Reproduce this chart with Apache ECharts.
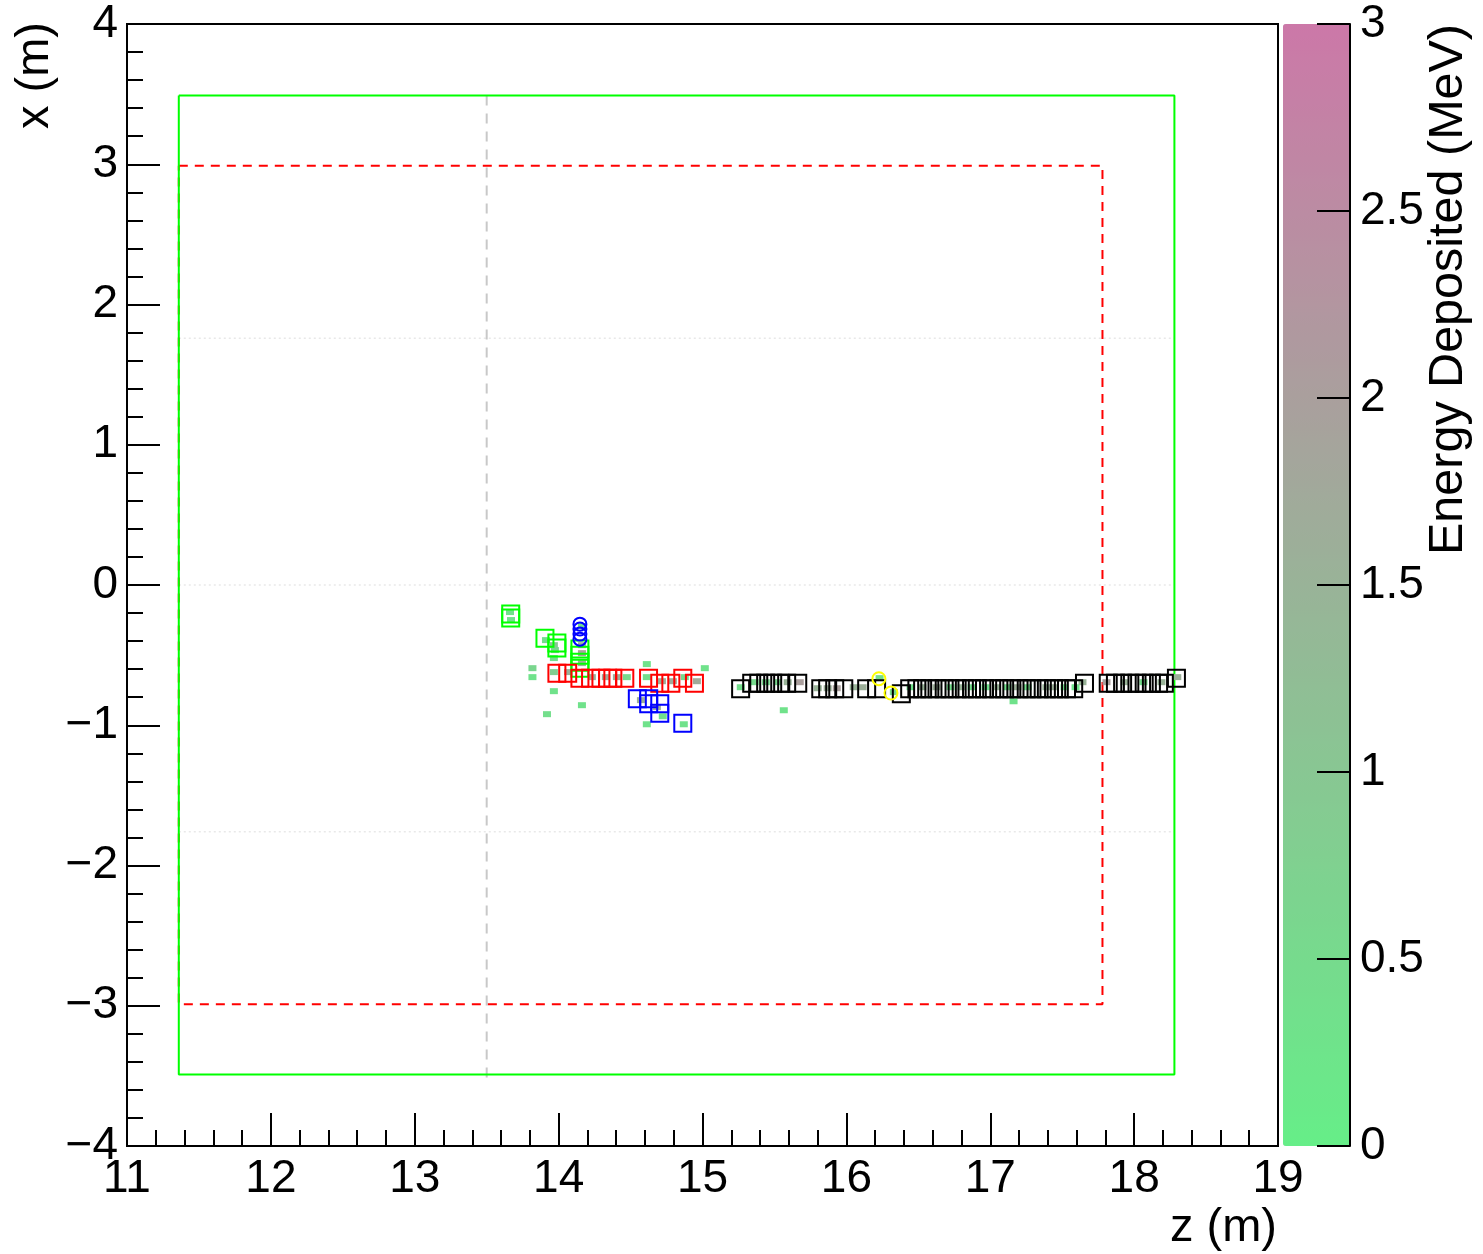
<!DOCTYPE html>
<html><head><meta charset="utf-8">
<script src="https://cdn.jsdelivr.net/npm/echarts/dist/echarts.min.js"></script>
<style>html,body{margin:0;padding:0;background:#fff}#c{width:1483px;height:1254px}</style>
</head><body><div id="c"></div><script>
// ---- geometry outlines (data units, metres) ----
const outerBoxZ = [11.36, 18.28, 18.28, 11.36, 11.36];
const outerBoxX = [3.49, 3.49, -3.49, -3.49, 3.49];
const innerBoxZ = [11.36, 17.78, 17.78, 11.36, 11.36];
const innerBoxX = [2.99, 2.99, -2.99, -2.99, 2.99];
const wallZ = [13.5, 13.5];
const wallX = [3.49, -3.53];
const guideX = [1.76, 0, -1.76];
const guideZ = [11.36, 18.28];

// ---- reconstructed objects [z, x] ----
const greenSquares = [[13.667,-0.207],[13.667,-0.236],[13.905,-0.379],[13.988,-0.414],[13.988,-0.450],
  [14.148,-0.457],[14.148,-0.500],[14.148,-0.550],[14.148,-0.593]];
const blueCircles = [[14.148,-0.279],[14.148,-0.314],[14.148,-0.350],[14.148,-0.386]];
const redSquares = [[13.988,-0.629],[14.063,-0.629],[14.148,-0.664],[14.222,-0.664],[14.294,-0.664],
  [14.340,-0.664],[14.377,-0.664],[14.460,-0.664],[14.625,-0.664],[14.703,-0.700],[14.780,-0.700],
  [14.863,-0.664],[14.944,-0.700]];
const blueSquares = [[14.547,-0.811],[14.626,-0.811],[14.626,-0.846],[14.703,-0.846],[14.703,-0.914],[14.863,-0.986]];
const yellowCircles = [[16.226,-0.668],[16.310,-0.770]];
const blackSquares = [
  [15.265,-0.739],[15.342,-0.700],[15.391,-0.700],[15.439,-0.700],[15.488,-0.700],[15.537,-0.700],[15.585,-0.700],[15.662,-0.700],
  [15.822,-0.739],[15.870,-0.739],[15.919,-0.739],[15.982,-0.739],
  [16.141,-0.739],[16.210,-0.739],[16.382,-0.775],
  [16.44,-0.739],[16.49,-0.739],[16.53,-0.739],[16.58,-0.739],[16.63,-0.739],[16.68,-0.739],[16.72,-0.739],
  [16.77,-0.739],[16.82,-0.739],[16.87,-0.739],[16.91,-0.739],[16.96,-0.739],[17.01,-0.739],[17.06,-0.739],
  [17.10,-0.739],[17.15,-0.739],[17.20,-0.739],[17.25,-0.739],[17.29,-0.739],[17.34,-0.739],[17.39,-0.739],
  [17.44,-0.739],[17.48,-0.739],[17.53,-0.739],[17.58,-0.739],
  [17.655,-0.700],
  [17.82,-0.700],[17.87,-0.700],[17.92,-0.700],[17.97,-0.700],[18.02,-0.700],[18.07,-0.700],[18.12,-0.700],
  [18.17,-0.700],[18.21,-0.700],[18.294,-0.664]];

// ---- hits [z, x, energy MeV] ----
const hits = [
  [13.662,-0.193,0.3],[13.669,-0.250,0.3],[13.912,-0.393,0.4],[13.967,-0.429,1.0],[13.974,-0.464,0.6],
  [13.967,-0.521,0.4],[13.818,-0.593,0.6],[13.818,-0.657,0.3],[13.967,-0.621,0.8],[13.967,-0.757,0.3],
  [14.162,-0.857,0.3],[13.919,-0.921,0.4],[14.162,-0.293,0.4],[14.162,-0.429,1.5],[14.162,-0.486,2.0],
  [14.162,-0.557,1.5],[14.065,-0.621,1.6],[14.231,-0.657,1.6],[14.328,-0.657,1.7],[14.405,-0.657,1.7],
  [14.474,-0.657,0.5],[14.613,-0.564,0.3],[14.613,-0.657,0.4],[14.718,-0.686,1.6],[14.794,-0.686,1.7],
  [14.877,-0.657,0.5],[14.961,-0.686,1.7],[15.016,-0.593,0.3],[14.572,-0.821,1.6],[14.683,-0.871,1.6],
  [14.724,-0.936,0.3],[14.613,-0.993,0.3],[14.870,-0.993,0.3],
  [15.266,-0.729,0.4],[15.363,-0.693,0.5],[15.440,-0.693,0.5],[15.523,-0.693,0.6],[15.592,-0.693,1.5],
  [15.676,-0.693,2.0],[15.565,-0.893,0.3],
  [15.801,-0.736,1.5],[15.870,-0.736,1.6],[15.933,-0.736,2.0],[16.051,-0.729,1.5],[16.113,-0.729,1.6],
  [16.231,-0.664,0.4],[16.330,-0.764,0.5],[16.446,-0.729,0.3],[16.529,-0.729,1.5],[16.626,-0.729,1.6],
  [16.724,-0.729,0.4],[16.800,-0.729,1.5],[16.870,-0.729,0.4],[16.967,-0.729,0.3],[17.044,-0.729,1.5],
  [17.120,-0.729,0.4],[17.190,-0.729,1.6],[17.260,-0.729,0.4],[17.390,-0.729,1.5],[17.450,-0.729,1.6],
  [17.516,-0.729,0.4],[17.593,-0.729,0.3],[17.162,-0.829,0.3],
  [17.641,-0.693,1.5],[17.808,-0.693,2.0],[17.933,-0.693,1.5],[18.065,-0.693,0.4],[18.190,-0.693,1.5],
  [18.300,-0.657,1.6]];

const energyColors = ['#66ee88', '#cc78a8'];

const FONT = 'Liberation Sans, Arial, Helvetica, sans-serif';
const minus = v => String(v).replace('-', '\u2212');
const zip = (a, b) => a.map((v, i) => [v, b[i]]);

function lineSeries(data, color, type, width) {
  return {type:'line', data, xAxisIndex:0, yAxisIndex:0, symbol:'none', silent:true, animation:false,
    lineStyle:{color, width, type}, z:1};
}
function markerSeries(data, symbol, size, color) {
  return {type:'scatter', data, symbol, symbolSize:size, xAxisIndex:0, yAxisIndex:0, animation:false,
    itemStyle:{color:'rgba(0,0,0,0)', borderColor:color, borderWidth:2, opacity:1}, z:4};
}

const series = [];
guideX.forEach(gx => series.push(lineSeries(guideZ.map(z => [z, gx]), '#dddddd', [2,3], 1)));
series.push(lineSeries(zip(wallZ, wallX), '#c8c8c8', [10,8], 2));
series.push(lineSeries(zip(innerBoxZ, innerBoxX), '#ff0000', [9,7], 2));
series.push(lineSeries(zip(outerBoxZ, outerBoxX), '#00ff00', 'solid', 2));
const hitIndex = series.length;
series.push({type:'scatter', data:hits, symbol:'rect', symbolSize:[8,6], xAxisIndex:0, yAxisIndex:0,
  animation:false, z:3, itemStyle:{opacity:1}});
series.push(markerSeries(greenSquares, 'rect', 17, '#00ff00'));
series.push(markerSeries(redSquares, 'rect', 17, '#ff0000'));
series.push(markerSeries(blueSquares, 'rect', 17, '#0000ff'));
series.push(markerSeries(blackSquares, 'rect', 17, '#000000'));
series.push(markerSeries(blueCircles, 'circle', 13, '#0000ff'));
series.push(markerSeries(yellowCircles, 'circle', 13, '#ffff00'));

const axisCommon = {
  axisLine:{show:true, onZero:false, lineStyle:{color:'#000', width:2}},
  axisTick:{show:true, inside:true, length:33, lineStyle:{color:'#000', width:2}},
  minorTick:{show:true, splitNumber:5, length:16, lineStyle:{color:'#000', width:2}},
  splitLine:{show:false},
  axisLabel:{color:'#000', fontSize:46, fontFamily:FONT, formatter:minus}
};

const option = {
  animation:false,
  backgroundColor:'#fff',
  grid:[
    {left:127, top:24, width:1151, height:1122, show:true, borderColor:'#000', borderWidth:2, backgroundColor:'transparent'}
  ],
  xAxis:[
    Object.assign({}, axisCommon, {type:'value', gridIndex:0, min:11, max:19, interval:1,
      axisLabel:Object.assign({}, axisCommon.axisLabel, {margin:10})})
  ],
  yAxis:[
    Object.assign({}, axisCommon, {type:'value', gridIndex:0, min:-4, max:4, interval:1,
      axisLabel:Object.assign({}, axisCommon.axisLabel, {margin:9})}),
    {type:'value', gridIndex:0, position:'right', offset:72, min:0, max:3, interval:0.5, z:20,
      axisLine:{show:true, onZero:false, lineStyle:{color:'#000', width:2}},
      axisTick:{show:true, inside:true, length:33, lineStyle:{color:'#000', width:2}},
      splitLine:{show:false},
      axisLabel:{color:'#000', fontSize:46, fontFamily:FONT, margin:10}}
  ],
  visualMap:{type:'continuous', min:0, max:3, dimension:2, seriesIndex:hitIndex, z:1,
    inRange:{color:energyColors}, left:1283, top:24, itemWidth:67, itemHeight:1122,
    padding:0, calculable:false, text:null, showLabel:false, hoverLink:false, orient:'vertical'},
  graphic:[
    {type:'text', x:35, y:22, rotation:Math.PI/2,
      style:{text:'x (m)', font:'47px ' + FONT, fill:'#000', align:'right', verticalAlign:'middle'}},
    {type:'text', x:1277, y:1228,
      style:{text:'z (m)', font:'47px ' + FONT, fill:'#000', align:'right', verticalAlign:'middle'}},
    {type:'text', x:1449, y:24, rotation:Math.PI/2,
      style:{text:'Energy Deposited (MeV)', font:'48.5px ' + FONT, fill:'#000', align:'right', verticalAlign:'middle'}}
  ],
  series
};

const chart = echarts.init(document.getElementById('c'), null, {renderer:'canvas'});
chart.setOption(option);
</script></body></html>
